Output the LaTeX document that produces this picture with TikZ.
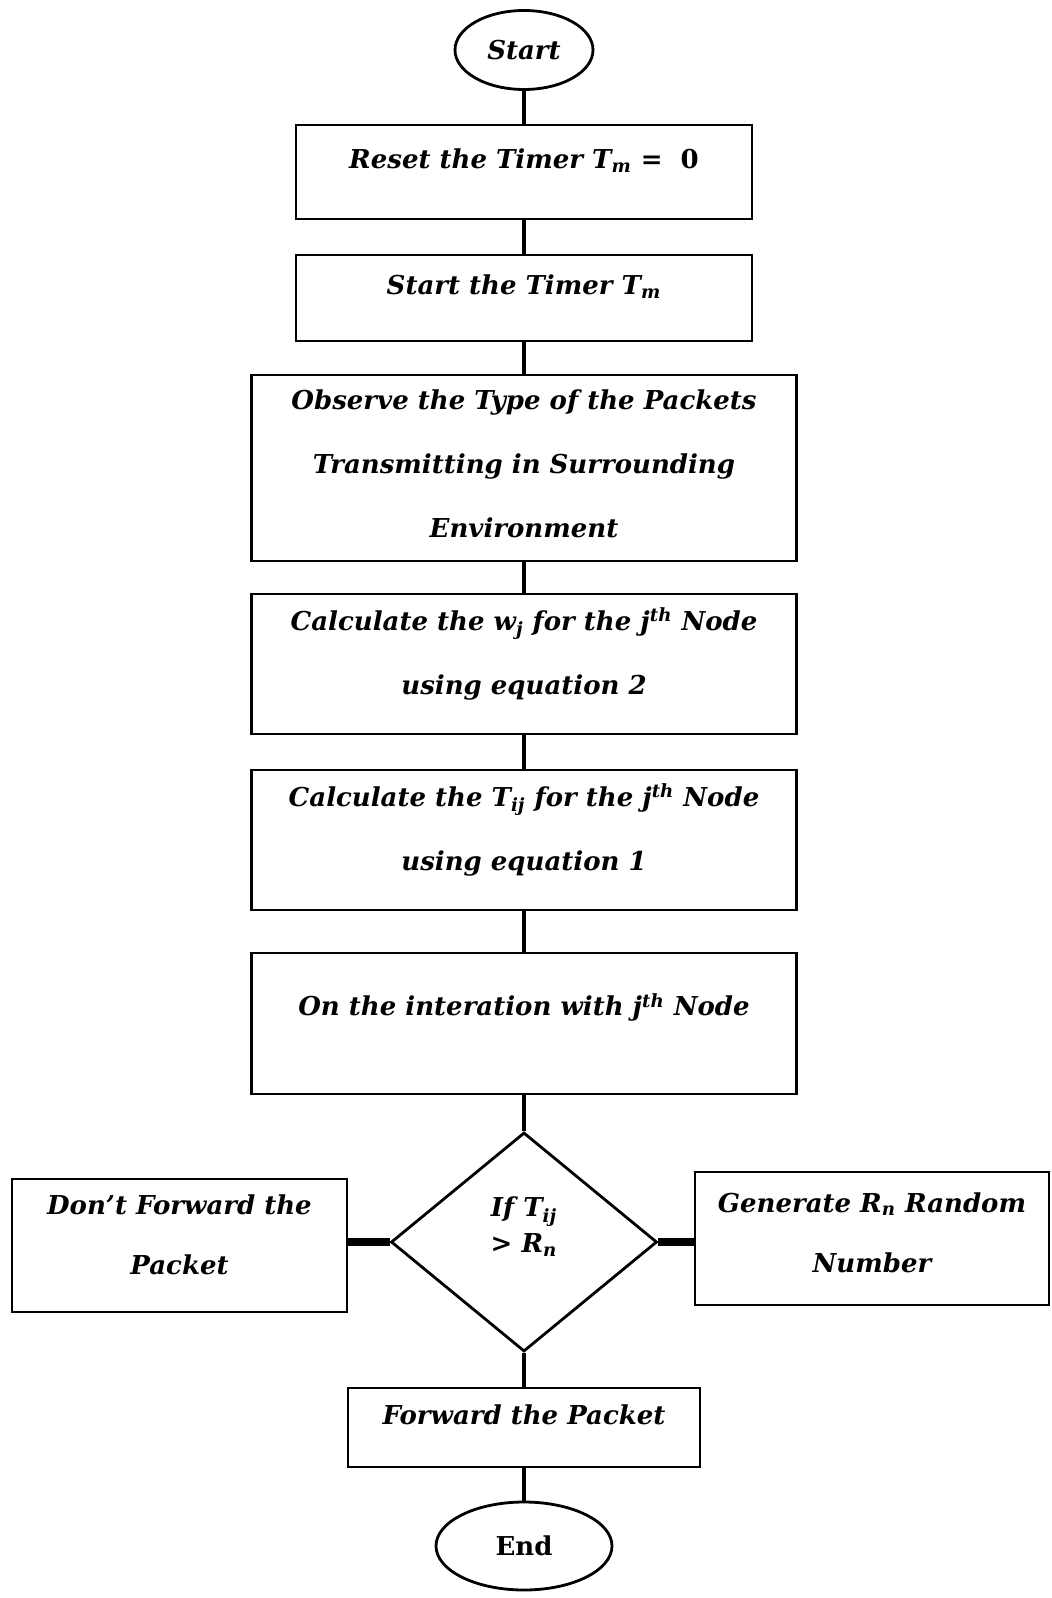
\documentclass[tikz,border=0pt]{standalone}
\usepackage{fontspec}
\setmainfont{DejaVu Serif}
\usetikzlibrary{shapes.geometric}

\begin{document}
\begin{tikzpicture}[x=0.5pt,y=-0.5pt,
  font=\bfseries\itshape\fontsize{13}{32}\selectfont,
  box/.style={draw,line width=1.4pt,inner sep=0pt,align=center,text depth=13pt},
  term/.style={draw,ellipse,line width=1.4pt,inner sep=0pt},
  flow/.style={line width=2pt},
  side/.style={line width=4pt}]
  \useasboundingbox (0,0) rectangle (1051,1598);

  % Main column
  \node[term,minimum width=69pt,minimum height=39.5pt] (start) at (524,50) {Start};
  \node[box,minimum width=228pt,minimum height=47pt] (reset) at (524,172)
    {Reset the Timer T\textsubscript{m} {\upshape = \ 0}};
  \node[box,minimum width=228pt,minimum height=43pt] (timer) at (524,298)
    {Start the Timer T\textsubscript{m}};
  \node[box,minimum width=272.5pt,minimum height=93pt,text depth=4pt] (observe) at (524,468)
    {Observe the Type of the Packets\\Transmitting in Surrounding\\Environment};
  \node[box,minimum width=272.5pt,minimum height=70pt] (weight) at (524,664)
    {Calculate the w\textsubscript{j} for the j\textsuperscript{th} Node\\using equation 2};
  \node[box,minimum width=272.5pt,minimum height=70pt] (trust) at (524,840)
    {Calculate the T\textsubscript{ij} for the j\textsuperscript{th} Node\\using equation 1};
  \node[box,minimum width=272.5pt,minimum height=70.5pt,text depth=19pt] (meet) at (524,1023.5)
    {On the interation with j\textsuperscript{th} Node};

  % Decision and its branches
  \node[draw,diamond,line width=1.4pt,inner sep=0pt,aspect=1.21,
    minimum width=133pt,minimum height=109.5pt,align=center,
    font=\bfseries\itshape\fontsize{13}{18}\selectfont,text depth=17pt] (check) at (524,1242)
    {If T\textsubscript{ij}\\{>} R\textsubscript{n}};
  \node[box,minimum width=167.5pt,minimum height=66.5pt,
    font=\bfseries\itshape\fontsize{13}{30}\selectfont,text depth=11pt] (drop) at (179.5,1245.5)
    {Don't Forward the\\Packet};
  \node[box,minimum width=177pt,minimum height=66.5pt,
    font=\bfseries\itshape\fontsize{13}{30}\selectfont,text depth=6pt] (random) at (872,1238.5)
    {Generate R\textsubscript{n} Random\\Number};
  \node[box,minimum width=176pt,minimum height=39.5pt] (forward) at (524,1427.5)
    {Forward the Packet};
  \node[term,minimum width=88pt,minimum height=44pt] (end) at (524,1546)
    {\upshape End};

  % Connectors
  \draw[flow] (start) -- (reset);
  \draw[flow] (reset) -- (timer);
  \draw[flow] (timer) -- (observe);
  \draw[flow] (observe) -- (weight);
  \draw[flow] (weight) -- (trust);
  \draw[flow] (trust) -- (meet);
  \draw[flow] (meet) -- (check);
  \draw[flow] (check) -- (forward);
  \draw[flow] (forward) -- (end);
  \draw[side] (check.west) -- (check.west -| drop.east);
  \draw[side] (check.east) -- (check.east -| random.west);
\end{tikzpicture}
\end{document}
